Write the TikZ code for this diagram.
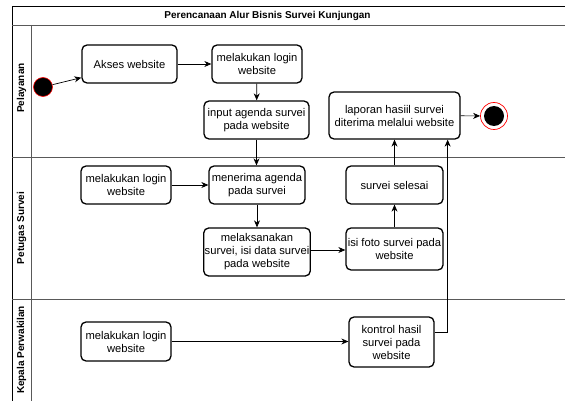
\documentclass[tikz,border=0pt]{standalone}
\usepackage{fontspec}
\setmainfont{Liberation Sans}
\usetikzlibrary{arrows.meta}

\tikzset{
  act/.style={draw=black, line width=1.3pt, rounded corners=5pt, fill=white,
    align=center, inner sep=1pt, font=\fontsize{11.2}{13}\selectfont},
  arr/.style={draw=black, line width=0.7pt, -{Stealth[length=7pt,width=6pt]}},
  frameline/.style={draw=black, line width=0.8pt},
  laneline/.style={draw=black!65, line width=0.9pt},
  lanetitle/.style={rotate=90, font=\bfseries\fontsize{10}{12}\selectfont},
}

\begin{document}
\begin{tikzpicture}[x=1pt, y=1pt]
  \useasboundingbox (0,0) rectangle (565,-401);

  % pool frame, title band and swimlanes
  \draw[frameline] (12,-401) -- (12,-6) -- (565,-6);
  \draw[laneline] (12,-25) -- (565,-25);
  \draw[laneline] (31,-25) -- (31,-401);
  \draw[laneline] (12,-157) -- (565,-157);
  \draw[laneline] (12,-299) -- (565,-299);

  \node[font=\bfseries\fontsize{10}{12}\selectfont] (title) at (267.5,-15.5)
    {Perencanaan Alur Bisnis Survei Kunjungan};
  \node[lanetitle] (lane1) at (21.5,-88) {Pelayanan};
  \node[lanetitle] (lane2) at (21.5,-228) {Petugas Survei};
  \node[lanetitle] (lane3) at (21.5,-350) {Kepala Perwakilan};

  % lane: Pelayanan
  \node[circle, fill=black, draw=red, line width=0.6pt, minimum size=19pt,
    inner sep=0pt] (start) at (43,-87) {};
  \node[act, minimum width=95pt, minimum height=38pt] (akses) at (129.5,-64)
    {Akses website};
  \node[act, minimum width=90pt, minimum height=38pt] (login1) at (257,-64)
    {melakukan login\\website};
  \node[act, minimum width=105pt, minimum height=38pt] (input) at (256.5,-120)
    {input agenda survei\\pada website};
  \node[act, minimum width=131pt, minimum height=47pt] (laporan) at (394.5,-115.5)
    {laporan hasiil survei\\diterima melalui website};
  \node[circle, draw=red, line width=0.7pt, minimum size=27pt, inner sep=0pt,
    path picture={\fill[black] (path picture bounding box.center) circle (10pt);}]
    (end) at (494,-116) {};

  % lane: Petugas Survei
  \node[act, minimum width=90pt, minimum height=38pt] (login2) at (126,-185)
    {melakukan login\\website};
  \node[act, minimum width=96pt, minimum height=38pt] (terima) at (257,-185)
    {menerima agenda\\pada survei};
  \node[act, minimum width=104pt, minimum height=48pt] (laksana) at (257,-252)
    {melaksanakan\\survei, isi data survei\\pada website};
  \node[act, minimum width=97pt, minimum height=38pt] (selesai) at (394.5,-185)
    {survei selesai};
  \node[act, minimum width=97pt, minimum height=42pt] (foto) at (394.5,-249)
    {isi foto survei pada\\website};

  % lane: Kepala Perwakilan
  \node[act, minimum width=90pt, minimum height=39pt] (login3) at (126,-341.5)
    {melakukan login\\website};
  \node[act, minimum width=85pt, minimum height=50pt] (kontrol) at (391.5,-342)
    {kontrol hasil\\survei pada\\website};

  % control flow
  \draw[arr] (start) -- ([yshift=6pt]akses.south west);
  \draw[arr] (akses) -- (login1);
  \draw[arr] (login1) -- (input);
  \draw[arr] (input.south) -- (terima.north -| input.south);
  \draw[arr] (login2) -- (terima);
  \draw[arr] (terima) -- (laksana);
  \draw[arr] ([yshift=2pt]laksana.east) -- ([yshift=2pt]laksana.east -| foto.west);
  \draw[arr] (foto) -- (selesai);
  \draw[arr] (selesai) -- (laporan);
  \draw[arr] (login3) -- (login3 -| kontrol.west);
  \draw[arr] ([yshift=10pt]kontrol.east) -| ([xshift=-13pt]laporan.south east);
  \draw[arr] (laporan) -- (end);
\end{tikzpicture}
\end{document}
